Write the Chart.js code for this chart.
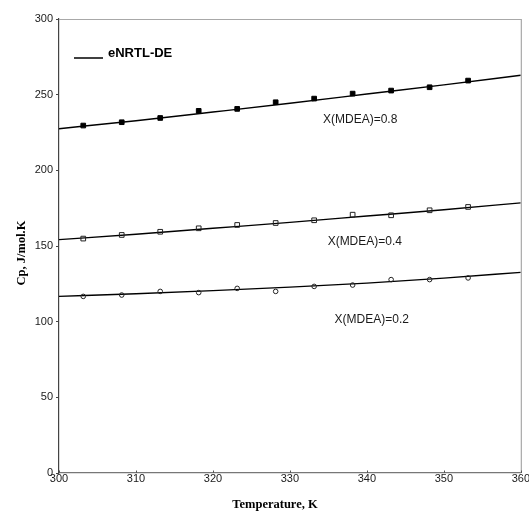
<!DOCTYPE html>
<html>
<head>
<meta charset="utf-8">
<script src="https://cdn.jsdelivr.net/npm/chart.js@4"></script>
<style>
  html, body { margin: 0; padding: 0; background: #fff; }
  #wrap { width: 529px; height: 511px; }
</style>
</head>
<body>
<div id="wrap"><canvas id="c" width="529" height="511"></canvas></div>
<script>
// Experimental temperatures (K)
const temps = [303.15, 308.15, 313.15, 318.15, 323.15, 328.15, 333.15, 338.15, 343.15, 348.15, 353.15];
// Experimental Cp (J/mol.K)
const cpX08 = [229.6, 231.8, 234.6, 239.3, 240.6, 245.0, 247.4, 250.7, 252.7, 254.9, 259.3];
const cpX04 = [154.9, 157.3, 159.4, 161.7, 163.9, 165.2, 167.0, 170.7, 170.3, 173.6, 175.8];
const cpX02 = [116.7, 117.6, 120.0, 119.2, 122.0, 120.0, 123.3, 124.2, 127.8, 127.8, 128.9];
// eNRTL-DE model curves
const modelT = [300, 310, 320, 330, 340, 350, 360];
const modelX08 = [227.5, 232.8, 238.5, 244.3, 250.4, 256.5, 262.8];
const modelX04 = [154.2, 157.8, 161.7, 165.6, 169.8, 174.0, 178.5];
const modelX02 = [116.7, 118.4, 120.5, 122.8, 125.5, 128.8, 132.6];
// tick values
const xTicks = [300, 310, 320, 330, 340, 350, 360];
const yTicks = [0, 50, 100, 150, 200, 250, 300];
// curve labels
const curveLabels = ["X(MDEA)=0.8", "X(MDEA)=0.4", "X(MDEA)=0.2"];
const curveLabelAt = [[334.3, 233.5], [334.9, 152.9], [335.8, 101.4]];
const legendText = "eNRTL-DE";

const pts = (xs, ys) => xs.map((x, i) => ({ x: x, y: ys[i] }));

const lineStyle = {
  type: 'line', showLine: true, borderColor: '#000', borderWidth: 1.4,
  pointRadius: 0, cubicInterpolationMode: 'monotone', fill: false, order: 2
};

const decor = {
  id: 'decor',
  afterDraw(chart) {
    const ctx = chart.ctx, a = chart.chartArea;
    const xs = chart.scales.x, ys = chart.scales.y;
    ctx.save();
    // top & right frame
    ctx.strokeStyle = '#a8a8a8';
    ctx.lineWidth = 1.2;
    ctx.beginPath();
    ctx.moveTo(a.left, a.top + 0.5); ctx.lineTo(a.right + 0.5, a.top + 0.5);
    ctx.lineTo(a.right + 0.5, a.bottom);
    ctx.stroke();
    // inward x ticks
    ctx.strokeStyle = '#555';
    ctx.lineWidth = 1;
    xTicks.forEach(v => {
      const px = Math.round(xs.getPixelForValue(v)) + 0.5;
      ctx.beginPath(); ctx.moveTo(px, a.bottom); ctx.lineTo(px, a.bottom - 2.5); ctx.stroke();
    });
    // curve labels
    ctx.fillStyle = '#1a1a1a';
    ctx.font = '12px "Liberation Sans", Arial, sans-serif';
    ctx.textAlign = 'left'; ctx.textBaseline = 'middle';
    curveLabels.forEach((t, i) => {
      ctx.fillText(t, xs.getPixelForValue(curveLabelAt[i][0]), ys.getPixelForValue(curveLabelAt[i][1]));
    });
    // legend
    ctx.strokeStyle = '#000'; ctx.lineWidth = 1.5;
    ctx.beginPath(); ctx.moveTo(a.left + 15, 58); ctx.lineTo(a.left + 44, 58); ctx.stroke();
    ctx.fillStyle = '#000';
    ctx.font = 'bold 13px "Liberation Sans", Arial, sans-serif';
    ctx.fillText(legendText, a.left + 49, 53.5);
    // axis titles
    ctx.font = 'bold 12.5px "Liberation Serif", "Times New Roman", serif';
    ctx.textAlign = 'center';
    ctx.fillText('Temperature, K', 275, 505);
    ctx.translate(22, 253);
    ctx.rotate(-Math.PI / 2);
    ctx.fillText('Cp, J/mol.K', 0, 0);
    ctx.restore();
  }
};

new Chart(document.getElementById('c'), {
  type: 'scatter',
  data: {
    datasets: [
      Object.assign({ label: 'model 0.8', data: pts(modelT, modelX08) }, lineStyle),
      Object.assign({ label: 'model 0.4', data: pts(modelT, modelX04) }, lineStyle),
      Object.assign({ label: 'model 0.2', data: pts(modelT, modelX02) }, lineStyle),
      { label: 'X(MDEA)=0.8', data: pts(temps, cpX08), pointStyle: 'rect', pointRadius: 3.3,
        backgroundColor: '#000', borderColor: '#000', borderWidth: 1, order: 1 },
      { label: 'X(MDEA)=0.4', data: pts(temps, cpX04), pointStyle: 'rect', pointRadius: 3.3,
        backgroundColor: 'rgba(255,255,255,0)', borderColor: '#222', borderWidth: 1, order: 1 },
      { label: 'X(MDEA)=0.2', data: pts(temps, cpX02), pointStyle: 'circle', pointRadius: 2.3,
        backgroundColor: 'rgba(255,255,255,0)', borderColor: '#222', borderWidth: 1, order: 1 }
    ]
  },
  options: {
    responsive: false,
    animation: false,
    devicePixelRatio: 1,
    layout: { autoPadding: false, padding: { top: 19, right: 8, bottom: 0, left: 0 } },
    plugins: { legend: { display: false }, tooltip: { enabled: false } },
    scales: {
      x: {
        type: 'linear', min: 300, max: 360,
        afterFit: s => { s.height = 38; },
        afterBuildTicks: s => { s.ticks = xTicks.map(v => ({ value: v })); },
        border: { display: true, color: '#777', width: 1.2 },
        grid: { display: true, drawOnChartArea: false, drawTicks: false, tickLength: 0 },
        ticks: { padding: -1, color: '#1a1a1a', maxRotation: 0, autoSkip: false,
                 font: { family: '"Liberation Sans", Arial, sans-serif', size: 11 } }
      },
      y: {
        type: 'linear', min: 0, max: 300,
        afterFit: s => { s.width = 59; },
        afterBuildTicks: s => { s.ticks = yTicks.map(v => ({ value: v })); },
        border: { display: true, color: '#444', width: 1.2 },
        grid: { display: true, drawOnChartArea: false, drawTicks: true, tickLength: 3, color: '#444' },
        ticks: { padding: 3, color: '#1a1a1a', autoSkip: false,
                 font: { family: '"Liberation Sans", Arial, sans-serif', size: 11 } }
      }
    }
  },
  plugins: [decor]
});
</script>
</body>
</html>
